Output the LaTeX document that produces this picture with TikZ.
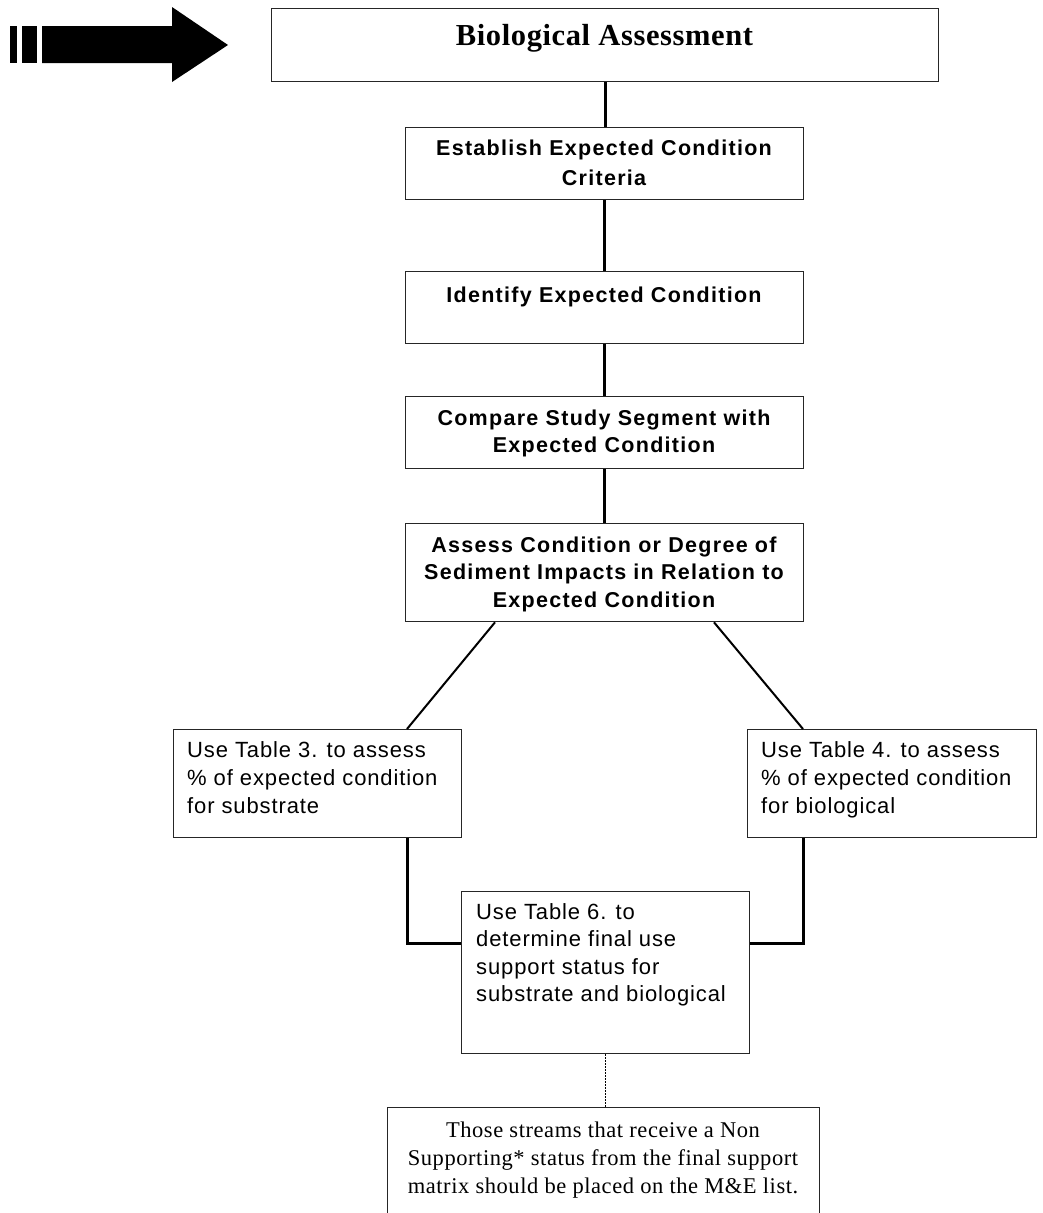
\documentclass[tikz,border=0pt]{standalone}
\usepackage{fontspec}
\setmainfont{Liberation Serif}
\setsansfont{Liberation Sans}
\newfontfamily\sansreg{Liberation Sans}[LetterSpace=4]
\newfontfamily\sansbld{Liberation Sans}[LetterSpace=6]
\newfontfamily\serifsp{Liberation Serif}[LetterSpace=2.5]
\newfontfamily\serifbld{Liberation Serif}[LetterSpace=2]
\begin{document}
\begin{tikzpicture}[x=1pt,y=-1pt,
  box/.style={draw=black!85,line width=1.3pt,inner sep=0pt,anchor=north west},
  vline/.style={draw=black,line width=3pt},
  dline/.style={draw=black,line width=2pt},
  dotline/.style={draw=black,line width=1.4pt,dash pattern=on 1.5pt off 1.5pt},
  boldtxt/.style={inner sep=0pt,anchor=north,align=center,
    font=\sansbld\bfseries\fontsize{21.5}{#1}\selectfont},
  regtxt/.style={inner sep=0pt,anchor=north west,align=left,
    font=\sansreg\fontsize{22}{#1}\selectfont},
]
\useasboundingbox (0,0) rectangle (1042,1213);
\clip (0,0) rectangle (1042,1213);
\fill[white] (0,0) rectangle (1042,1213);

% big arrow
\fill[black] (10,26) rectangle (17,63);
\fill[black] (22,26) rectangle (37,63);
\fill[black] (42,26) -- (172,26) -- (172,7) -- (228,45) -- (172,82) -- (172,63) -- (42,63) -- cycle;

% boxes
\node[box,minimum width=667pt,minimum height=73pt] (b1) at (271,8) {};
\node[box,minimum width=398pt,minimum height=72pt] (b2) at (405,127) {};
\node[box,minimum width=398pt,minimum height=72pt] (b3) at (405,271) {};
\node[box,minimum width=398pt,minimum height=72pt] (b4) at (405,396) {};
\node[box,minimum width=398pt,minimum height=98pt] (b5) at (405,523) {};
\node[box,minimum width=288pt,minimum height=108pt] (b6) at (173,729) {};
\node[box,minimum width=289pt,minimum height=108pt] (b7) at (747,729) {};
\node[box,minimum width=288pt,minimum height=162pt] (b8) at (461,891) {};
\node[box,minimum width=432pt,minimum height=140pt] (b9) at (387,1107) {};

% texts
\node[inner sep=0pt,anchor=base,font=\serifbld\bfseries\fontsize{30.5}{36}\selectfont] (t1) at (604.5,45) {Biological Assessment};
\node[boldtxt=30] (t2) at (604,134) {\strut Establish Expected Condition\\Criteria};
\node[boldtxt=27.5] (t3) at (604,282.75) {\strut Identify Expected Condition};
\node[boldtxt=27.5] (t4) at (604,405.75) {\strut Compare Study Segment with\\Expected Condition};
\node[boldtxt=27.5] (t5) at (604,532.75) {\strut Assess Condition or Degree of\\Sediment Impacts in Relation to\\Expected Condition};
\node[regtxt=28] (t6) at (187,737.4) {\strut Use Table 3. to assess\\\% of expected condition\\for substrate};
\node[regtxt=28] (t7) at (761,737.4) {\strut Use Table 4. to assess\\\% of expected condition\\for biological};
\node[regtxt=27.5] (t8) at (476,899.75) {\strut Use Table 6. to\\determine final use\\support status for\\substrate and biological};
\node[inner sep=0pt,anchor=north,align=center,font=\serifsp\fontsize{22.5}{28}\selectfont] (t9) at (603,1117.4) {\strut Those streams that receive a Non\\Supporting* status from the final support\\matrix should be placed on the M\&E list.};

% connectors
\draw[vline] (b1.south) -- (b1.south |- b2.north);
\draw[vline] (b2.south) -- (b3.north);
\draw[vline] (b3.south) -- (b4.north);
\draw[vline] (b4.south) -- (b5.north);
\draw[dline] ([xshift=90pt]b5.south west) -- ([xshift=234pt]b6.north west);
\draw[dline] ([xshift=309pt]b5.south west) -- ([xshift=56pt]b7.north west);
\draw[vline] ([xshift=234pt]b6.south west) |- ([yshift=-52pt]b8.north west);
\draw[vline] ([xshift=56pt]b7.south west) |- ([yshift=-52pt]b8.north east);
\draw[dotline] (b8.south) -- (b8.south |- b9.north);
\end{tikzpicture}
\end{document}
